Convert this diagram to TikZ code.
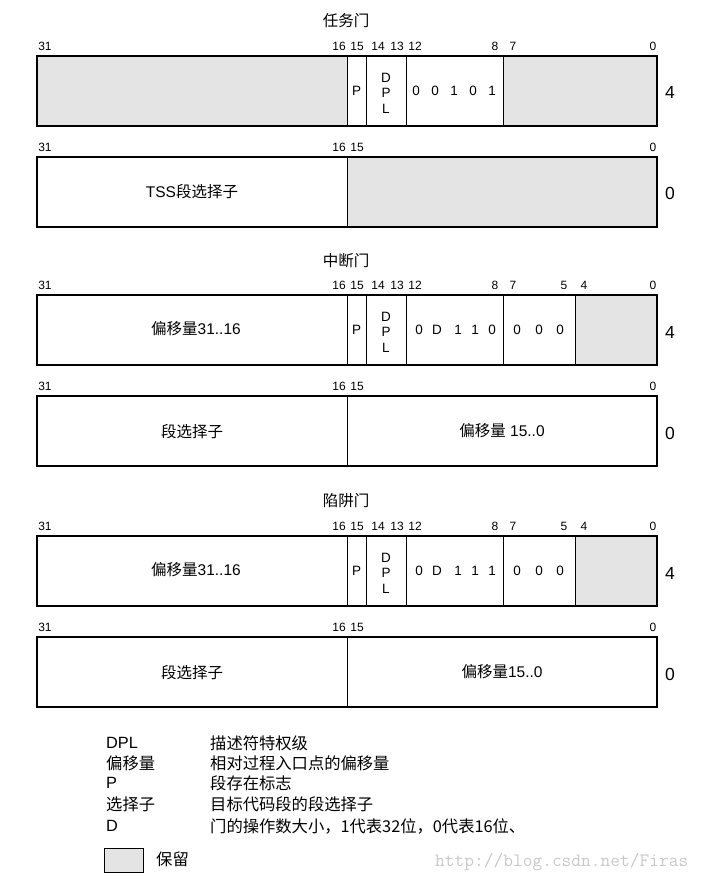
\documentclass[tikz,border=0pt]{standalone}
\usepackage{fontspec}
\setmainfont{Liberation Sans}
\newfontfamily\cjk{Noto Sans CJK SC}
\definecolor{resvgray}{RGB}{228,228,228}
\definecolor{markgray}{RGB}{200,200,200}

\begin{document}
\begin{tikzpicture}[x=1pt,y=-1pt,
    fieldbox/.style={draw,line width=1.1pt},
    divider/.style={draw,line width=0.9pt},
    reserved/.style={fill=resvgray},
    gatetitle/.style={inner sep=0pt,font=\fontsize{15.5}{16}\selectfont\cjk},
    bitno/.style={inner sep=0pt,font=\fontsize{12}{12}\selectfont},
    cell/.style={inner sep=0pt,font=\fontsize{13.5}{15.5}\selectfont},
    fieldtext/.style={inner sep=0pt,font=\fontsize{15.5}{16}\selectfont},
    dword/.style={inner sep=0pt,font=\fontsize{17.5}{18}\selectfont},
    legend/.style={anchor=west,inner sep=0pt,font=\fontsize{16.3}{17}\selectfont}]
  \useasboundingbox (0,0) rectangle (707,881);

  \node[gatetitle] (task) at (346,21) {任务门};
  \foreach \bx/\bn in {45/31,339/16,357/15,378/14,397/13,415/12,495/8,513/7,653/0}
    \node[bitno] (task-b\bn) at (\bx,46) {\bn};
  \fill[reserved] (37,56) rectangle (347,126) (503,56) rectangle (657,126);
  \draw[fieldbox] (37,56) rectangle (657,126);
  \foreach \dx in {347,366,406,503} \draw[divider] (\dx,56) -- (\dx,126);
  \node[cell] (task-p) at (356.5,91) {P};
  \node[cell,align=center] (task-dpl) at (386,93) {D\\P\\L};
  \foreach \fx/\fv in {416/0,435/0,454/1,473/0,492/1}
    \node[cell] (task-f\fx) at (\fx,91) {\fv};
  \node[dword] (task-4) at (670,92) {4};
  \foreach \bx/\bn in {45/31,339/16,357/15,653/0}
    \node[bitno] (tss-b\bn) at (\bx,147) {\bn};
  \fill[reserved] (347,157) rectangle (657,227);
  \draw[fieldbox] (37,157) rectangle (657,227);
  \draw[divider] (347,157) -- (347,227);
  \node[fieldtext] (tss-sel) at (192,192) {TSS{\cjk 段选择子}};
  \node[dword] (tss-0) at (670,193) {0};

  \node[gatetitle] (intr) at (346,261) {中断门};
  \foreach \bx/\bn in {45/31,339/16,357/15,378/14,397/13,415/12,495/8,513/7,564/5,584/4,653/0}
    \node[bitno] (intr-b\bn) at (\bx,285) {\bn};
  \fill[reserved] (575,295) rectangle (657,365);
  \draw[fieldbox] (37,295) rectangle (657,365);
  \foreach \dx in {347,366,406,503,575} \draw[divider] (\dx,295) -- (\dx,365);
  \node[fieldtext] (intr-hi) at (196,329) {{\cjk 偏移量}31..16};
  \node[cell] (intr-p) at (356.5,330) {P};
  \node[cell,align=center] (intr-dpl) at (386,332) {D\\P\\L};
  \foreach \fx/\fv in {419/0,437/D,458/1,475/1,492/0,517/0,539/0,560/0}
    \node[cell] (intr-f\fx) at (\fx,330) {\fv};
  \node[dword] (intr-4) at (670,332) {4};
  \foreach \bx/\bn in {45/31,339/16,357/15,653/0}
    \node[bitno] (isel-b\bn) at (\bx,386) {\bn};
  \draw[fieldbox] (37,396) rectangle (657,466);
  \draw[divider] (347,396) -- (347,466);
  \node[fieldtext] (isel-sel) at (192,432) {\cjk 段选择子};
  \node[fieldtext] (isel-off) at (502,431) {{\cjk 偏移量} 15..0};
  \node[dword] (isel-0) at (670,433) {0};

  \node[gatetitle] (trap) at (346,501) {陷阱门};
  \foreach \bx/\bn in {45/31,339/16,357/15,378/14,397/13,415/12,495/8,513/7,564/5,584/4,653/0}
    \node[bitno] (trap-b\bn) at (\bx,526) {\bn};
  \fill[reserved] (575,536) rectangle (657,606);
  \draw[fieldbox] (37,536) rectangle (657,606);
  \foreach \dx in {347,366,406,503,575} \draw[divider] (\dx,536) -- (\dx,606);
  \node[fieldtext] (trap-hi) at (196,570) {{\cjk 偏移量}31..16};
  \node[cell] (trap-p) at (356.5,571) {P};
  \node[cell,align=center] (trap-dpl) at (386,573) {D\\P\\L};
  \foreach \fx/\fv in {419/0,437/D,458/1,475/1,492/1,517/0,539/0,560/0}
    \node[cell] (trap-f\fx) at (\fx,571) {\fv};
  \node[dword] (trap-4) at (670,573) {4};
  \foreach \bx/\bn in {45/31,339/16,357/15,653/0}
    \node[bitno] (tsel-b\bn) at (\bx,627) {\bn};
  \draw[fieldbox] (37,637) rectangle (657,707);
  \draw[divider] (347,637) -- (347,707);
  \node[fieldtext] (tsel-sel) at (192,673) {\cjk 段选择子};
  \node[fieldtext] (tsel-off) at (502,672) {{\cjk 偏移量}15..0};
  \node[dword] (tsel-0) at (670,674) {0};

  \node[legend] (k-dpl) at (106,743) {DPL};
  \node[legend] (v-dpl) at (210,743) {\cjk 描述符特权级};
  \node[legend] (k-off) at (106,763) {\cjk 偏移量};
  \node[legend] (v-off) at (210,763) {\cjk 相对过程入口点的偏移量};
  \node[legend] (k-p) at (106,783) {P};
  \node[legend] (v-p) at (210,783) {\cjk 段存在标志};
  \node[legend] (k-sel) at (106,804) {\cjk 选择子};
  \node[legend] (v-sel) at (210,804) {\cjk 目标代码段的段选择子};
  \node[legend] (k-d) at (106,826) {D};
  \node[legend] (v-d) at (210,826) {\cjk 门的操作数大小，1代表32位，0代表16位、};
  \draw[reserved,line width=0.9pt] (104,848) rectangle (143,872);
  \node[legend] (k-resv) at (156,859) {\cjk 保留};
  \node[anchor=west,inner sep=0pt,text=markgray,font=\fontsize{18.9}{19}\selectfont\ttfamily] (mark) at (435,862) {http://blog.csdn.net/Firas};
\end{tikzpicture}
\end{document}
